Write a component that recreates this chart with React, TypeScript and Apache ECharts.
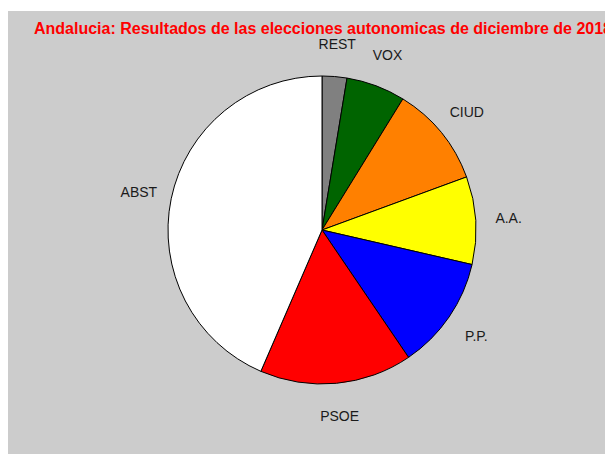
import React, { useEffect, useRef } from "react";
import * as echarts from "echarts";

const titleText = "Andalucia: Resultados de las elecciones autonomicas de diciembre de 2018";
const categories = ["REST", "VOX", "CIUD", "A.A.", "P.P.", "PSOE", "ABST"];
const values = [2.6, 6.2, 10.6, 9.2, 11.9, 16.0, 43.5];
const colors = ["#808080", "#006400", "#ff8000", "#ffff00", "#0000ff", "#ff0000", "#ffffff"];

const FONT = "'Liberation Sans', Arial, Helvetica, sans-serif";

export default function App() {
  const ref = useRef<HTMLDivElement>(null);
  useEffect(() => {
    if (!ref.current) return;
    const chart = echarts.init(ref.current, undefined, { renderer: "svg" });
    const center = [314, 219];
    const data = categories.map((name, i) => ({
      name,
      value: values[i],
      itemStyle: { color: colors[i] },
    }));
    chart.setOption({
      animation: false,
      backgroundColor: "#cccccc",
      title: {
        text: titleText,
        left: 26,
        top: 9,
        padding: 0,
        textStyle: { fontSize: 16, fontWeight: "bold", color: "#ff0000", fontFamily: FONT },
      },
      series: [
        {
          type: "pie",
          center,
          radius: [0, 154],
          startAngle: 90,
          clockwise: true,
          silent: true,
          label: { show: false },
          labelLine: { show: false },
          itemStyle: { borderColor: "#000000", borderWidth: 1 },
          data,
        },
        {
          type: "pie",
          center,
          radius: [180, 188],
          startAngle: 90,
          clockwise: true,
          silent: true,
          itemStyle: { color: "transparent", borderWidth: 0 },
          label: {
            show: true,
            position: "inside",
            rotate: 0,
            formatter: "{b}",
            fontSize: 14,
            color: "#1a1a1a",
            fontFamily: FONT,
          },
          labelLine: { show: false },
          data: categories.map((name, i) => ({ name, value: values[i] })),
        },
      ],
    });
    return () => chart.dispose();
  }, []);
  return (
    <div
      ref={ref}
      style={{ position: "absolute", left: 8, top: 11, width: 597, height: 443 }}
    />
  );
}
